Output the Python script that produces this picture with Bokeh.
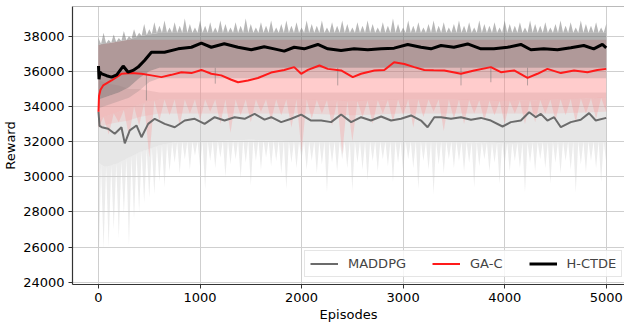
import numpy as np
from bokeh.plotting import figure
from bokeh.models import Range1d, FixedTicker, Legend, LegendItem, Span
from bokeh.embed import file_html
from bokeh.resources import INLINE

# ---------------- data ----------------
# smoothed curves
hctde_ep = [0, 5, 15, 33, 80, 128, 180, 243, 292, 340, 390, 453, 521, 650, 784, 915, 1013, 1111,
            1239, 1374, 1505, 1632, 1730, 1829, 1927, 2026, 2160, 2258, 2389, 2517, 2652, 2783,
            2911, 3045, 3176, 3274, 3373, 3500, 3635, 3766, 3894, 4029, 4159, 4258, 4385, 4520,
            4651, 4779, 4877, 4962, 5000]
hctde_val = [36300, 35550, 35950, 35860, 35750, 35670, 35800, 36300, 35950, 36050, 36240, 36620,
             37090, 37090, 37280, 37370, 37600, 37370, 37570, 37370, 37230, 37400, 37280, 37150,
             37370, 37280, 37530, 37280, 37190, 37280, 37230, 37280, 37320, 37530, 37370, 37280,
             37470, 37370, 37560, 37280, 37280, 37370, 37530, 37230, 37280, 37230, 37340, 37470,
             37280, 37530, 37340]

gac_ep = [0, 5, 20, 46, 128, 226, 324, 423, 521, 619, 718, 816, 915, 1013, 1111, 1209, 1308, 1374,
          1472, 1570, 1700, 1829, 1927, 1996, 2062, 2176, 2258, 2389, 2504, 2586, 2717, 2815, 2911,
          3012, 3110, 3208, 3300, 3405, 3569, 3700, 3864, 3963, 4093, 4225, 4323, 4421, 4553, 4683,
          4815, 4913, 5000]
gac_val = [33700, 34600, 34950, 35200, 35480, 35860, 35900, 35860, 35770, 35670, 35800, 35950,
           35900, 36080, 35860, 35770, 35520, 35380, 35480, 35620, 35930, 36080, 36240, 35860,
           36080, 36330, 36140, 36050, 35670, 35860, 36050, 36080, 36520, 36420, 36240, 36080,
           36060, 36050, 35860, 36050, 36240, 35950, 36050, 35630, 35860, 36140, 35900, 36050,
           35950, 36080, 36140]

maddpg_ep = [0, 10, 33, 95, 160, 226, 259, 308, 374, 423, 489, 554, 652, 751, 849, 947, 1045,
             1144, 1242, 1340, 1439, 1537, 1635, 1701, 1799, 1898, 1996, 2094, 2193, 2291, 2389,
             2488, 2586, 2684, 2783, 2881, 2979, 3078, 3176, 3241, 3307, 3373, 3471, 3569, 3668,
             3766, 3864, 3979, 4061, 4159, 4241, 4307, 4356, 4421, 4487, 4553, 4651, 4749, 4831,
             4897, 5000]
maddpg_val = [33700, 32900, 32820, 32730, 32450, 32820, 31900, 32640, 32920, 32250, 33010, 33300,
              33010, 32820, 33200, 33300, 33010, 33390, 33200, 33390, 33300, 33580, 33250, 33390,
              33110, 33300, 33540, 33200, 33200, 33110, 33540, 33110, 33390, 33200, 33430, 33200,
              33300, 33490, 33200, 32820, 33390, 33390, 33300, 33390, 33240, 33350, 33200, 32860,
              33110, 33200, 33670, 33390, 33580, 33200, 33390, 32820, 33110, 33240, 33620, 33200,
              33350]

# raw-reward envelopes (dense core)
band_ep = [0, 50, 100, 200, 300, 400, 500, 600, 700, 800, 1000, 1500, 2000, 2500, 3000, 3500,
           4000, 4500, 5000]
maddpg_core_lo = [30800, 30600, 30600, 30800, 31100, 31400, 31600, 31800, 31900, 32000, 32000,
                  32100, 32000, 32000, 32000, 32000, 31900, 32000, 32000]
maddpg_core_hi = [35500, 35400, 35300, 35200, 35000, 35000, 34900, 34800, 34800, 34800, 34800,
                  34800, 34800, 34800, 34800, 34800, 34800, 34800, 34800]

gac_fringe_lo = [32800, 32900, 33000, 33100, 33200, 33400, 33500, 33600, 33600, 33600, 33600,
                 33600, 33600, 33500, 33600, 33600, 33600, 33600, 33700]
gac_core_lo = [33300, 33400, 33500, 33700, 33900, 34100, 34300, 34400, 34400, 34400, 34400,
               34400, 34400, 34300, 34400, 34400, 34300, 34400, 34500]
gac_core_hi = [37500, 37550, 37600, 37700, 37800, 37800, 37800, 37800, 37800, 37800, 37800,
               37800, 37800, 37800, 37800, 37800, 37800, 37800, 37800]

hctde_fringe_lo = [33900, 34000, 34100, 34300, 34500, 34900, 35400, 35600, 35600, 35600, 35600,
                   35600, 35600, 35600, 35600, 35600, 35600, 35600, 35600]
hctde_core_lo = [34400, 34500, 34600, 34800, 35100, 35600, 36000, 36200, 36200, 36200, 36200,
                 36200, 36200, 36200, 36200, 36200, 36200, 36200, 36200]
hctde_core_hi = [37500, 37600, 37600, 37700, 37800, 38000, 38100, 38200, 38200, 38200, 38200,
                 38200, 38200, 38200, 38200, 38200, 38200, 38200, 38200]

# raw-reward spikes, one every 50 episodes (estimated extremes)
spike_ep = list(range(0, 5001, 50))
maddpg_low = [24600, 25900, 26000, 27000, 26500, 27900, 26100, 27600, 28000, 28500, 28800, 29000,
              29700, 29400, 30300, 30800, 30200, 31000, 30400, 31200, 30600, 29300, 30900, 30500,
              31100, 30000, 30700, 31000, 29900, 30800, 29500, 30900, 30400, 31100, 30600, 30900,
              30200, 29300, 30800, 30500, 31000, 30400, 30900, 30200, 30700, 29100, 30800, 30300,
              31000, 30500, 29200, 30800, 30400, 29800, 30900, 30300, 31000, 30600, 29700, 30800,
              30300, 31000, 30500, 29300, 30900, 30400, 29000, 30700, 30200, 31000, 30500, 30900,
              30300, 30800, 29400, 30600, 31000, 30300, 30800, 29600, 30700, 30300, 30900, 30500,
              29100, 30800, 30300, 31000, 30500, 29600, 30800, 30200, 30900, 30400, 29100, 30700,
              30300, 30900, 30500, 29700, 30800]
hctde_high = [37900, 38200, 37800, 38100, 37900, 38300, 38000, 38400, 38200, 38700, 38400, 38800,
              38600, 38900, 38500, 38800, 38600, 39000, 38700, 38500, 38900, 38600, 38800, 38500,
              38900, 38700, 38500, 38800, 38600, 39000, 38700, 38500, 38800, 38600, 38900, 38500,
              38700, 38900, 38600, 38800, 38500, 38900, 38700, 38600, 38900, 38500, 38800, 38600,
              38900, 38700, 38500, 38800, 38600, 38900, 38700, 38500, 38800, 38600, 39000, 38700,
              38500, 38900, 38600, 38800, 38500, 38700, 38900, 38600, 38800, 38500, 38700, 38900,
              38600, 38800, 38500, 38900, 38700, 38600, 38800, 38500, 38900, 38700, 38600, 38800,
              38500, 38900, 38700, 38600, 38800, 38500, 38700, 38900, 38600, 38800, 38500, 38900,
              38700, 38600, 38800, 38500, 38700]
gac_spike_ep = list(range(0, 5001, 100))
gac_low = [32800, 32400, 33100, 32300, 32900, 31100, 33200, 33500, 32900, 33600, 33200, 33700,
           33000, 32500, 33500, 33100, 33700, 33200, 33500, 32800, 31400, 33300, 33600, 32900,
           31300, 32000, 33400, 33000, 33600, 33100, 33500, 32800, 33400, 33700, 32600, 33300,
           33000, 33600, 33200, 33500, 33000, 33600, 33000, 33100, 33600, 33200, 33500, 33100,
           33600, 33300, 33700]
hctde_spike_ep = [472, 1150, 2356, 3570, 3864, 4225]
hctde_spike_val = [34340, 35300, 35200, 35200, 35380, 35200]

x_ticks = [0, 1000, 2000, 3000, 4000, 5000]
y_ticks = [24000, 26000, 28000, 30000, 32000, 34000, 36000, 38000]

# ---------------- figure ----------------
Y_TOP = 39690
p = figure(width=624, height=327, output_backend="svg", toolbar_location=None,
           x_range=Range1d(-256, 5180), y_range=Range1d(23868, Y_TOP),
           min_border_left=71, min_border_right=0, min_border_top=6, min_border_bottom=43)
p.background_fill_color = "white"
p.border_fill_color = "white"
p.outline_line_color = None

FONT = "DejaVu Sans"
for ax in (p.xaxis[0], p.yaxis[0]):
    ax.axis_line_color = "#333333"
    ax.axis_line_width = 1.2
    ax.major_tick_line_color = "#333333"
    ax.major_tick_in = 0
    ax.major_tick_out = 4
    ax.minor_tick_line_color = None
    ax.major_label_text_font = FONT
    ax.major_label_text_font_size = "13px"
    ax.major_label_text_color = "black"
    ax.axis_label_text_font = FONT
    ax.axis_label_text_font_size = "13px"
    ax.axis_label_text_font_style = "normal"
    ax.axis_label_text_color = "black"
    ax.major_label_standoff = 4
    ax.axis_label_standoff = 2

p.xaxis.ticker = FixedTicker(ticks=x_ticks)
p.yaxis.ticker = FixedTicker(ticks=y_ticks)
p.xaxis.axis_label = "Episodes"
p.yaxis.axis_label = "Reward"
p.grid.grid_line_color = "#cfcfcf"
p.grid.grid_line_width = 1
p.xgrid.ticker = FixedTicker(ticks=x_ticks)
p.ygrid.ticker = FixedTicker(ticks=y_ticks)
p.add_layout(Span(location=Y_TOP, dimension="width", line_color="#777777", line_width=1.2))

be = np.array(band_ep)

def band(lo, hi, color, alpha):
    p.varea(x=be, y1=np.array(lo), y2=np.array(hi), fill_color=color, fill_alpha=alpha)

def fringe(ep, vals, base, color, alpha):
    # saw-tooth edge: a peak at each spike, a valley on the core edge between spikes
    ep = np.asarray(ep, dtype=float)
    vals = np.asarray(vals, dtype=float)
    half = (ep[1] - ep[0]) / 2.0
    xs = np.empty(2 * len(ep) - 1)
    ys = np.empty(2 * len(ep) - 1)
    xs[0::2] = ep
    xs[1::2] = ep[:-1] + half
    b = np.interp(xs, band_ep, base)
    ys[0::2] = vals
    ys[1::2] = b[1::2]
    p.varea(x=xs, y1=b, y2=ys, fill_color=color, fill_alpha=alpha)

def spikes(ep, val, base, color, alpha, width=1.0):
    b = np.interp(ep, band_ep, base)
    p.segment(x0=ep, y0=b, x1=ep, y1=val, line_color=color, line_alpha=alpha, line_width=width)

# MADDPG raw
fringe(spike_ep, maddpg_low, maddpg_core_lo, "#c8c8c8", 0.35)
band(maddpg_core_lo, maddpg_core_hi, "#c8c8c8", 0.45)
# GA-C raw
band(gac_fringe_lo, gac_core_lo, "#ff8080", 0.15)
fringe(gac_spike_ep, gac_low, gac_core_lo, "#ff8080", 0.25)
band(gac_core_lo, gac_core_hi, "#ff8080", 0.4)
# H-CTDE raw
band(hctde_fringe_lo, hctde_core_lo, "#707070", 0.22)
band(hctde_core_lo, hctde_core_hi, "#707070", 0.55)
fringe(spike_ep, hctde_high, hctde_core_hi, "#707070", 0.5)
spikes(hctde_spike_ep, hctde_spike_val, hctde_core_lo, "#707070", 0.5)

r_m = p.line(maddpg_ep, maddpg_val, line_color="#6b6b6b", line_width=2)
r_g = p.line(gac_ep, gac_val, line_color="#ff1a1a", line_width=2)
r_h = p.line(hctde_ep, hctde_val, line_color="black", line_width=3)

legend = Legend(items=[LegendItem(label="MADDPG", renderers=[r_m]),
                       LegendItem(label="GA-C", renderers=[r_g]),
                       LegendItem(label="H-CTDE", renderers=[r_h])],
                orientation="horizontal", location=(232, 7),
                spacing=26, glyph_width=28, glyph_height=13, label_standoff=10,
                padding=5, margin=0, label_height=13,
                label_text_font=FONT, label_text_font_size="13px",
                border_line_color="#cccccc", background_fill_alpha=0.8)
p.add_layout(legend, "center")

open("out.html", "w").write(file_html(p, INLINE))
